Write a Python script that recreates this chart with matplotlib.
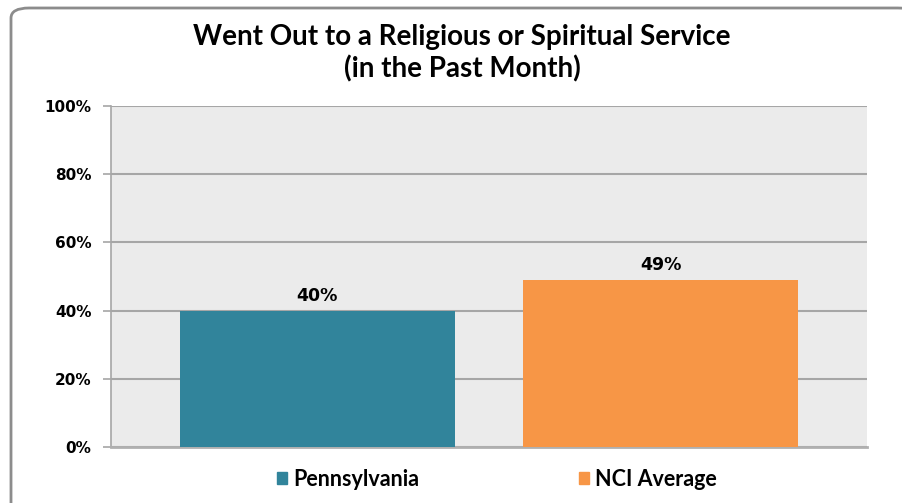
import matplotlib.pyplot as plt
from matplotlib.patches import FancyBboxPatch

# survey result, share who went out to a religious or spiritual service
groups = ["Pennsylvania", "NCI Average"]
values = [40, 49]
colors = ["#31849b", "#f79646"]
yticks = [0, 20, 40, 60, 80, 100]

fig = plt.figure(figsize=(9.03, 5.03), dpi=100)

# rounded outer frame, runs off the right and bottom edges
frame = FancyBboxPatch((11 / 903, -20 / 503), 905 / 903, 515 / 503,
                       boxstyle="round,pad=0,rounding_size=0.02",
                       transform=fig.transFigure, facecolor="white",
                       edgecolor="#8c8c8c", linewidth=2, zorder=-5)
fig.patches.append(frame)

ax = fig.add_axes([111 / 903, 56 / 503, 756 / 903, 341 / 503])
ax.set_zorder(2)
ax.set_facecolor("#ebebeb")

x = list(range(len(values)))
bars = ax.bar(x, values, width=0.8, color=colors, zorder=3, label=groups)
ax.set_xlim(-0.6, 1.6)
ax.set_ylim(0, 100)

ax.set_yticks(yticks)
ax.set_yticklabels([f"{t}%" for t in yticks], fontsize=11,
                   fontweight="bold", family="DejaVu Sans")
ax.set_xticks([])
ax.grid(axis="y", color="#a6a6a6", linewidth=1.5, zorder=1)
ax.tick_params(axis="y", length=6, width=1.2, color="#a6a6a6", pad=8)

for side in ["top", "right"]:
    ax.spines[side].set_visible(False)
ax.spines["left"].set_color("#a6a6a6")
ax.spines["left"].set_linewidth(1.2)
ax.spines["bottom"].set_color("#b0b0b0")
ax.spines["bottom"].set_linewidth(2)

for b, v in zip(bars, values):
    ax.annotate(f"{v}%", (b.get_x() + b.get_width() / 2, v),
                xytext=(0, 4), textcoords="offset points",
                ha="center", va="bottom", fontsize=12.5, fontweight="bold",
                family="DejaVu Sans")

fig.text(462 / 903, 1 - 53 / 503,
         "Went Out to a Religious or Spiritual Service\n(in the Past Month)",
         ha="center", va="center", fontsize=20, fontweight="bold",
         family="Lato", linespacing=1.25)

handles = [plt.Rectangle((0, 0), 1, 1, color=c) for c in colors]
fig.legend(handles, groups, loc="center", bbox_to_anchor=(497 / 903, 1 - 479 / 503),
           ncol=2, frameon=False, handlelength=0.47, handleheight=0.47,
           handletextpad=0.3, columnspacing=7.4,
           prop={"family": "Lato", "weight": "bold", "size": 15.5})

fig.savefig("out.png", dpi=100)
